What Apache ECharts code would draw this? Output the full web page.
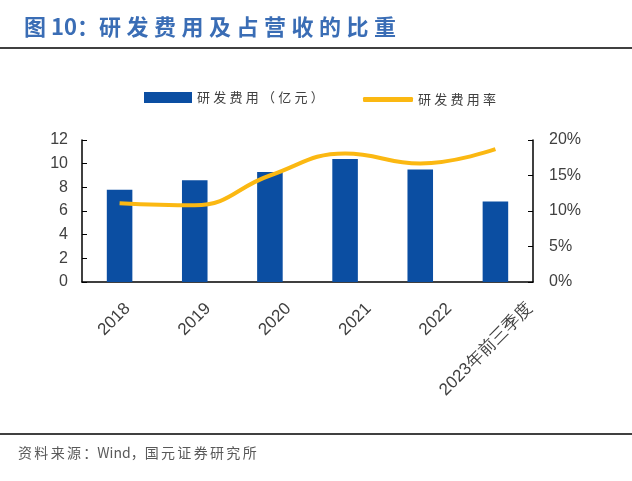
<!DOCTYPE html>
<html><head><meta charset="utf-8">
<script src="https://cdn.jsdelivr.net/npm/echarts@6/dist/echarts.min.js"></script>
<style>html,body{margin:0;padding:0;background:#fff}#c{width:632px;height:481px}</style>
</head><body><div id="c"></div>
<script>
const categories = ['2018','2019','2020','2021','2022','2023年前三季度'];
const rdExpense = [7.8, 8.6, 9.3, 10.4, 9.5, 6.8];
const rdRate = [11.1, 10.8, 15.0, 18.1, 16.7, 18.7];
const leftTicks = {min:0, max:12, interval:2};
const rightTicks = {min:0, max:20, interval:5};

const spaced = (s, sp) => s.split('').join(sp);
const chart = echarts.init(document.getElementById('c'));
const font = '"Noto Sans CJK SC", "Liberation Sans", sans-serif';
const latin = '"Liberation Sans", Arial, sans-serif';
chart.setOption({
  animation:false,
  title:{text:'图 10：' + spaced('研发费用及占营收的比重', '\u2005'), left:19, top:11,
    textStyle:{color:'#3a6db5', fontSize:22, fontWeight:'bold', fontFamily:font}},
  graphic:[
    {type:'line', shape:{x1:0,y1:48,x2:632,y2:48}, style:{stroke:'#404040', lineWidth:2}},
    {type:'line', shape:{x1:0,y1:434,x2:632,y2:434}, style:{stroke:'#404040', lineWidth:2}},
    {type:'text', left:18, top:446, style:{text:spaced('资料来源：','\u2006') + 'Wind，' + spaced('国元证券研究所','\u2006'), fill:'#595959', font:'14px '+font}}
  ],
  legend:[
    {top:86, left:139, itemWidth:48, itemHeight:11,
     textStyle:{fontSize:13, color:'#404040', fontFamily:font},
     formatter:n => spaced(n, '\u2005'),
     data:[{name:'研发费用（亿元）', icon:'rect'}]},
    {top:88, left:358, itemWidth:50, itemHeight:5,
     textStyle:{fontSize:13, color:'#404040', fontFamily:font},
     formatter:n => spaced(n, '\u2005'),
     data:[{name:'研发费用率', icon:'roundRect'}]}
  ],
  grid:[
    {left:82, right:99, top:140, bottom:199},
    {left:81.5, right:68.5, top:140, bottom:199}
  ],
  xAxis:[
    {type:'category', data:categories, gridIndex:0,
     axisLine:{lineStyle:{color:'#000', width:1.5}},
     axisTick:{inside:true, length:4, lineStyle:{color:'#000'}},
     axisLabel:{show:false}},
    {type:'category', data:categories, gridIndex:1,
     axisLine:{show:false}, axisTick:{show:false},
     axisLabel:{rotate:45, fontSize:17, color:'#404040', fontFamily:latin, margin:18,
       verticalAlign:'top', interval:0}}
  ],
  yAxis:[
    {type:'value', min:leftTicks.min, max:leftTicks.max, interval:leftTicks.interval,
     axisLine:{show:true, lineStyle:{color:'#000', width:1.5}},
     axisTick:{show:true, inside:true, length:5, lineStyle:{color:'#000'}},
     splitLine:{show:false},
     axisLabel:{fontSize:16, color:'#404040', margin:14, fontFamily:latin}},
    {type:'value', min:rightTicks.min, max:rightTicks.max, interval:rightTicks.interval,
     axisLine:{show:true, lineStyle:{color:'#000', width:1.5}},
     axisTick:{show:true, inside:true, length:5, lineStyle:{color:'#000'}},
     splitLine:{show:false},
     axisLabel:{fontSize:16, color:'#404040', margin:16, formatter:'{value}%', fontFamily:latin}},
    {type:'value', gridIndex:1, show:false, min:0, max:1}
  ],
  series:[
    {name:'研发费用（亿元）', type:'bar', data:rdExpense, barWidth:'34%',
     itemStyle:{color:'#0b4ea2'}},
    {name:'研发费用率', type:'line', yAxisIndex:1, data:rdRate, smooth:0.45,
     symbol:'none', lineStyle:{color:'#fbb812', width:4}, itemStyle:{color:'#fbb812'}}
  ]
});
</script></body></html>
